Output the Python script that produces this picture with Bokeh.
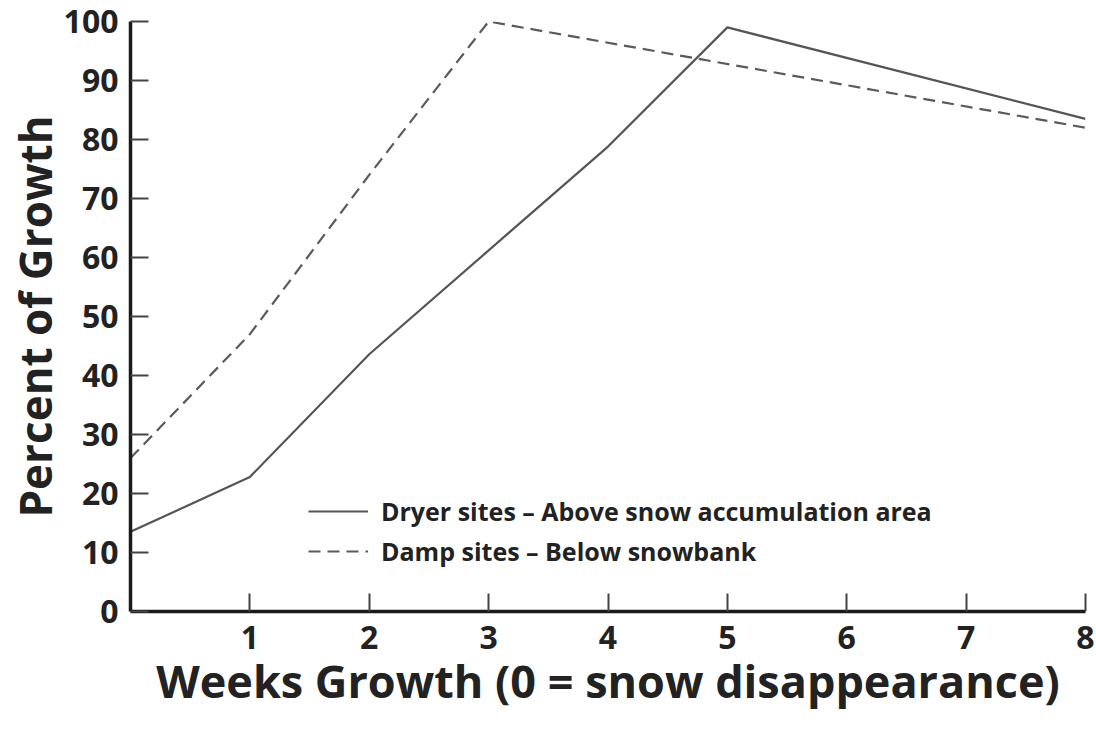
from bokeh.plotting import figure
from bokeh.models import Legend, LegendItem, FixedTicker, Range1d
from bokeh.embed import file_html
from bokeh.resources import INLINE

# Data
dryer_weeks = [0, 1, 2, 4, 5, 8]
dryer_growth = [13.5, 22.8, 43.6, 78.8, 99.0, 83.5]
damp_weeks = [0, 1, 2, 3, 8]
damp_growth = [26.0, 47.0, 74.0, 100.0, 82.0]
x_ticks = [1, 2, 3, 4, 5, 6, 7, 8]
y_ticks = [0, 10, 20, 30, 40, 50, 60, 70, 80, 90, 100]

FONT = "Open Sans"
TXT = "#222222"

p = figure(frame_width=955, frame_height=590, output_backend="svg",
           toolbar_location=None, x_range=Range1d(0, 8), y_range=Range1d(0, 100),
           min_border_left=130, min_border_top=21, min_border_right=11,
           min_border_bottom=112)
p.outline_line_color = None
p.xgrid.grid_line_color = None
p.ygrid.grid_line_color = None
p.background_fill_color = "white"
p.border_fill_color = "white"

r1 = p.line(dryer_weeks, dryer_growth, line_color="#555555", line_width=2.2)
r2 = p.line(damp_weeks, damp_growth, line_color="#5a5a5a", line_width=2.2,
            line_dash="12 7")

for ax in (p.xaxis[0], p.yaxis[0]):
    ax.axis_line_width = 3.5
    ax.axis_line_color = "#1a1a1a"
    ax.major_tick_line_color = "#444444"
    ax.major_tick_line_width = 2
    ax.major_tick_in = 18
    ax.major_tick_out = 0
    ax.minor_tick_line_color = None
    ax.major_label_text_font = FONT
    ax.major_label_text_font_style = "bold"
    ax.major_label_text_color = TXT
    ax.major_label_text_font_size = "32px"
    ax.axis_label_text_font = FONT
    ax.axis_label_text_font_style = "bold"
    ax.axis_label_text_color = TXT

p.xaxis.axis_label_text_font_size = "45px"
p.yaxis.axis_label_text_font_size = "44px"
p.xaxis.ticker = FixedTicker(ticks=x_ticks)
p.yaxis.ticker = FixedTicker(ticks=y_ticks)
p.xaxis.axis_label = "Weeks Growth (0 = snow disappearance)"
p.yaxis.axis_label = "Percent of Growth"
p.xaxis.major_label_standoff = 14
p.yaxis.major_label_standoff = 12
p.xaxis.axis_label_standoff = -2
p.yaxis.axis_label_standoff = -4

legend = Legend(items=[
    LegendItem(label="Dryer sites \u2013 Above snow accumulation area", renderers=[r1]),
    LegendItem(label="Damp sites \u2013 Below snowbank", renderers=[r2]),
], location=(178, 43))
legend.border_line_color = None
legend.background_fill_alpha = 0
legend.padding = 0
legend.margin = 0
legend.glyph_width = 60
legend.glyph_height = 28
legend.label_height = 28
legend.spacing = 6
legend.label_standoff = 13
legend.label_text_font = FONT
legend.label_text_font_style = "bold"
legend.label_text_font_size = "25px"
legend.label_text_color = TXT
p.add_layout(legend, "center")

open("out.html", "w").write(file_html(p, INLINE))
